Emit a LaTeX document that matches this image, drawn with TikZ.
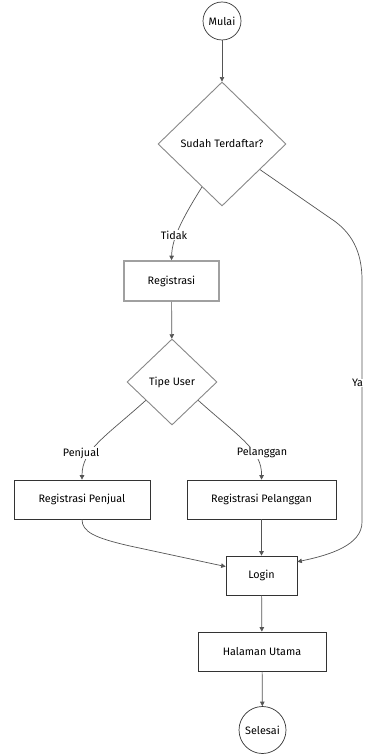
\documentclass[tikz,border=0pt]{standalone}
\usepackage{fontspec}
\setmainfont{Fira Sans}
\usetikzlibrary{shapes.geometric,arrows.meta}
\definecolor{lnc}{HTML}{555555}
\definecolor{bdc}{HTML}{333333}
\definecolor{dmc}{HTML}{888888}
\begin{document}
\begin{tikzpicture}[x=1pt,y=-1pt,
  font=\fontsize{10.8}{12}\selectfont,
  proc/.style={draw=bdc,line width=0.7pt,rectangle,inner sep=0pt,fill=white},
  dec/.style={draw=dmc,line width=0.9pt,diamond,inner sep=0pt,fill=white},
  term/.style={draw=bdc,line width=0.7pt,circle,inner sep=0pt,fill=white},
  lbl/.style={fill=white,inner sep=1pt},
  conn/.style={draw=lnc,line width=0.7pt,-{Triangle[length=4.5pt,width=4.5pt]}},
  plain/.style={draw=lnc,line width=0.7pt}]
\useasboundingbox (0,0) rectangle (365,754);
\fill[white] (0,0) rectangle (365,754);
% nodes
\node[term,minimum size=38pt] (mulai) at (222,21) {Mulai};
\node[dec,minimum width=128pt,minimum height=124pt] (d1) at (222,144) {Sudah Terdaftar?};
\node[proc,draw=dmc!80,line width=1.6pt,minimum width=95pt,minimum height=40pt] (reg) at (171.5,281) {Registrasi};
\node[dec,minimum width=90pt,minimum height=86pt] (d2) at (172,382) {Tipe User};
\node[proc,minimum width=136pt,minimum height=39pt] (rp) at (82,499.5) {Registrasi Penjual};
\node[proc,minimum width=149pt,minimum height=39pt] (rc) at (261.5,499.5) {Registrasi Pelanggan};
\node[proc,minimum width=71pt,minimum height=39pt] (login) at (261.5,575.5) {Login};
\node[proc,minimum width=128pt,minimum height=39pt] (hal) at (262,651.5) {Halaman Utama};
\node[term,minimum size=47pt] (sel) at (262.5,730) {Selesai};
% connectors
\draw[conn] (mulai) -- (d1);
\draw[conn] (d1.-115) .. controls (180,222) and (172,240) .. (reg.north);
\draw[conn] (d1.-34) -- (330,218) .. controls (352,232) and (362,252) .. (362,280) -- (362,522) .. controls (362,545) and (330,555) .. (login.21);
\draw[conn] (reg) -- (d2);
\draw[conn] (d2.-145) .. controls (105,437) and (82,450) .. (rp.north);
\draw[conn] (d2.-35) .. controls (239,437) and (262,450) .. (rc.north);
\draw[conn] (rp.south) .. controls (82,532) and (95,538) .. (130,546) -- (login.166);
\draw[conn] (rc) -- (login);
\draw[conn] (login) -- (hal);
\draw[conn] (hal) -- (sel);
% labels
\node[lbl] (ltidak) at (174,235) {Tidak};
\node[lbl,inner sep=0.5pt] (lya) at (357.5,383) {Ya};
\node[lbl] (lpenjual) at (81,453) {Penjual};
\node[lbl] (lpelanggan) at (262,453) {Pelanggan};
\end{tikzpicture}
\end{document}
